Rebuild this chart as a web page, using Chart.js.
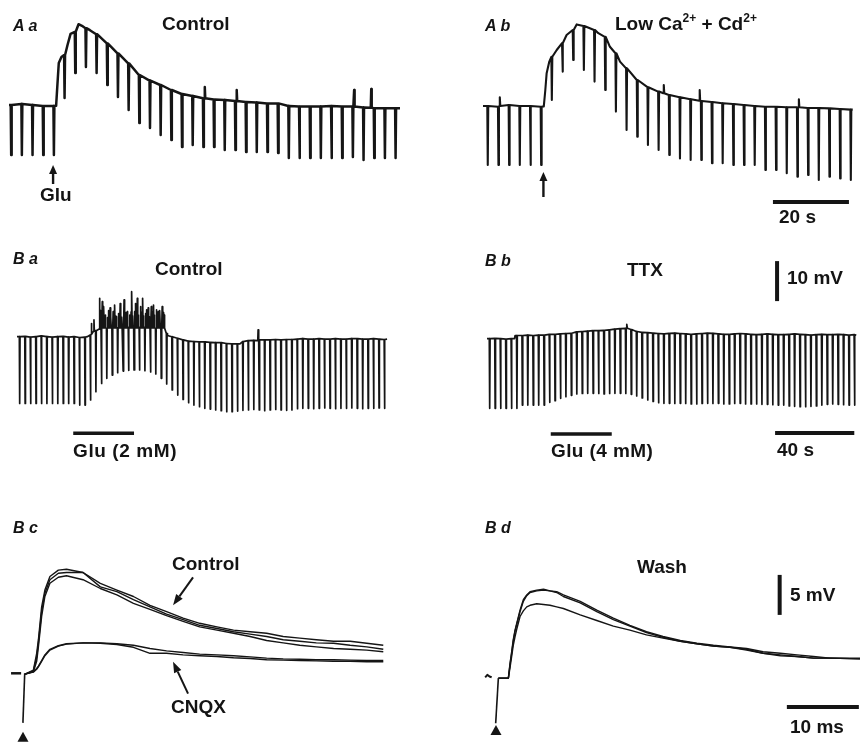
<!DOCTYPE html>
<html>
<head>
<meta charset="utf-8">
<script src="https://cdn.jsdelivr.net/npm/chart.js@4.4.1/dist/chart.umd.min.js"></script>
<style>
  body { margin: 0; width: 860px; height: 743px; position: relative; overflow: hidden; background: #fff;
         font-family: "Liberation Sans", Arial, sans-serif; }
  canvas { position: absolute; }
  .t { position: absolute; font-weight: bold; font-size: 19px; line-height: 19px; color: #141414; white-space: nowrap; }
  .p { font-style: italic; font-size: 16px; line-height: 16px; }
  .t sup { font-size: 12px; line-height: 0; position: relative; top: -1px; }
</style>
</head>
<body>
<canvas id="cAa" width="430" height="230" style="left:0;top:0"></canvas>
<canvas id="cAb" width="430" height="230" style="left:430px;top:0"></canvas>
<canvas id="cBa" width="430" height="245" style="left:0;top:230px"></canvas>
<canvas id="cBb" width="430" height="245" style="left:430px;top:230px"></canvas>
<canvas id="cBc" width="430" height="268" style="left:0;top:475px"></canvas>
<canvas id="cBd" width="430" height="268" style="left:430px;top:475px"></canvas>

<div class="t p" style="left:13px;top:18px">A a</div>
<div class="t" style="left:162px;top:14px">Control</div>
<div class="t" style="left:40px;top:185px">Glu</div>
<div class="t p" style="left:485px;top:18px">A b</div>
<div class="t" style="left:615px;top:14px">Low Ca<sup>2+</sup> + Cd<sup>2+</sup></div>
<div class="t" style="left:779px;top:207px">20 s</div>

<div class="t p" style="left:13px;top:251px">B a</div>
<div class="t" style="left:155px;top:259px">Control</div>
<div class="t" style="left:73px;top:441px;letter-spacing:0.6px">Glu (2 mM)</div>
<div class="t p" style="left:485px;top:253px">B b</div>
<div class="t" style="left:627px;top:260px">TTX</div>
<div class="t" style="left:787px;top:268px">10 mV</div>
<div class="t" style="left:551px;top:441px;letter-spacing:0.4px">Glu (4 mM)</div>
<div class="t" style="left:777px;top:440px">40 s</div>

<div class="t p" style="left:13px;top:520px">B c</div>
<div class="t" style="left:172px;top:554px">Control</div>
<div class="t" style="left:171px;top:697px">CNQX</div>
<div class="t p" style="left:485px;top:520px">B d</div>
<div class="t" style="left:637px;top:557px">Wash</div>
<div class="t" style="left:790px;top:585px">5 mV</div>
<div class="t" style="left:790px;top:717px">10 ms</div>

<script>
// ---- A: responses to glutamate puffs, hyperpolarizing pulses (s, mV) ----
const pulseIntervalA = 2.81;
const aaFirstPulse = 0.45;
const aaLevel = [0, 0.25, 0, -0.25, -0.25, 12.5, 18.3, 19.2, 17.7, 15.4, 12.9, 10.4, 7.5, 6.1, 5, 3.75, 2.75, 2.25, 1.7, 1.4,
  1.25, 1, 0.75, 0.6, 0.4, 0.4, -0.25, -0.4, -0.4, -0.4, -0.25, -0.4, -0.4, -0.6, -0.8, -0.8, -0.8];
const aaBottom = [-12.5, -12.5, -12.5, -12.5, -12.5, 1.75, 8, 9.5, 8, 5, 2, -1.25, -4.5, -5.75, -7.5, -8.75, -10.5, -10, -10.5, -10.5,
  -11.25, -11.25, -11.75, -11.75, -11.75, -12, -13.25, -13.25, -13.25, -13.25, -13.25, -13.25, -13, -13.75, -13.25, -13.25, -13.25];
const aaTraceT = [0, 12.4, 12.8, 13.1, 13.8, 15.4, 16.2, 18.3, 19.2, 21.3, 102.9];
const aaTraceV = [0, -0.2, 6, 10.5, 12, 15, 17.8, 20.2, 19.8, 18.7, -0.8];
const aaSpikeT = [51.4, 59.8, 90.7, 95.2];
const aaSpikeBase = [1.7, 1.0, -0.4, -0.7];
const aaSpikePeak = [4.5, 3.75, 3.75, 4];
const aaGluTime = 11.6;

const abFirstPulse = 1.13;
const abLevel = [0, -0.2, 0.25, 0, 0, -0.2, 12.3, 15.7, 19, 20, 19, 17.3, 13.2, 9.4, 6.5, 4.7, 3.6, 2.75, 2.2, 1.7,
  1.25, 1, 0.7, 0.5, 0.25, 0, -0.2, -0.2, -0.3, -0.3, -0.5, -0.5, -0.6, -0.75, -0.9];
const abBottom = [-14.75, -14.75, -14.75, -14.75, -14.75, -14.75, 1.5, 8.6, 11.5, 9, 6.1, 4, -1.4, -6, -7.7, -9.75, -11, -12.25, -13.1, -13.5,
  -13.5, -14.3, -14.3, -14.75, -14.75, -14.75, -16, -16, -16.8, -17.7, -17.25, -18.5, -17.7, -18.1, -18.5];
const abTraceT = [0, 16.0, 16.4, 16.75, 17.45, 19.4, 22.0, 24.65, 30.35, 33.4, 36.05, 97.3];
const abTraceV = [0, -0.1, 4, 8.2, 11.1, 14, 17.75, 20.4, 18.2, 14.8, 11.1, -0.9];
const abSpikeT = [4.3, 47.45, 56.9, 83.0];
const abSpikeBase = [0, 3.2, 1.3, -0.3];
const abSpikePeak = [2.2, 5.25, 4, 1.7];
const abGluTime = 15.9;
const barA_s = 20;

// ---- B a / B b: glutamate bath application (s, mV) ----
const pulseIntervalB = 2.75;
const baFirstPulse = 1.18;
const baLevel = [0, 0.1, -0.1, 0, 0.2, 0, -0.1, 0, 0.1, -0.1, 0, -0.2, -0.1,
  0.4, 1.5, 1.8, 2.1, 2.1, 2.2, 2.2, 2.3, 2.3, 2.3, 2.3, 2.2, 2.1, 1.8, 0.8, 0, -0.4, -0.8,
  -1.1, -1.2, -1.3, -1.3, -1.4, -1.5, -1.5, -1.7, -1.8, -1.8, -1.25,
  -1.0, -0.9, -0.8, -0.8, -0.8, -0.7, -0.8, -0.7, -0.7,
  -0.6, -0.5, -0.6, -0.6, -0.5, -0.6, -0.6, -0.5, -0.6, -0.6, -0.5, -0.5, -0.6, -0.6, -0.5, -0.6, -0.7];
const baBottom = [-16.7, -16.7, -16.7, -16.7, -16.7, -16.7, -16.7, -16.7, -16.7, -16.7, -16.7, -17.1, -17.1,
  -15.8, -13.75, -11.7, -10.4, -9.6, -9, -8.6, -8.4, -8.3, -8.3, -8.5, -8.8, -9.3, -10.4, -11.8, -13.3, -14.6, -15.7, -16.5, -17.1, -17.5,
  -17.9, -18.1, -18.3, -18.5, -18.75, -18.75, -18.6,
  -18.4, -18.3, -18.2, -18.3, -18.5, -18.3, -18.2, -18.3, -18.4, -18.3,
  -18.0, -17.9, -17.9, -18.0, -17.9, -17.8, -17.9, -18.0, -17.9, -17.9, -17.8, -17.9, -18.0, -17.9, -17.9, -17.8, -17.9];
const baTraceT = [0, 35.5, 76.0, 112.6, 186.9];
const baTraceV = [0, 0, 0.3, -1.8, -0.6];
const baSpikeT = [37.4, 38.7, 41.5, 41.95,
  42.9, 43.3, 43.7, 44.1, 44.5,
  45.65, 46.05, 46.45, 46.85, 47.25,
  48.4, 48.8, 49.2, 49.6, 50.0,
  51.15, 51.55, 51.95, 52.35, 52.75,
  53.9, 54.3, 54.7, 55.1, 55.5,
  56.65, 57.05, 57.45, 57.85, 58.25,
  59.4, 59.8, 60.2, 60.6, 61.0,
  62.15, 62.55, 62.95, 63.35, 63.75,
  64.9, 65.3, 65.7, 66.1, 66.5,
  67.65, 68.05, 68.45, 68.85, 69.25,
  70.4, 70.8, 71.2, 71.6, 72.0,
  73.15, 73.55, 73.95, 74.35,
  121.6];
const baSpikeBase = [0.6, 1.4, 1.9, 2.0,
  2.2, 2.2, 2.2, 2.2, 2.2, 2.2, 2.2, 2.2, 2.2, 2.2, 2.2, 2.2, 2.2, 2.2, 2.2,
  2.2, 2.2, 2.2, 2.2, 2.2, 2.2, 2.2, 2.2, 2.2, 2.2, 2.2, 2.2, 2.2, 2.2, 2.2,
  2.2, 2.2, 2.2, 2.2, 2.2, 2.2, 2.2, 2.2, 2.2, 2.2, 2.2, 2.2, 2.2, 2.2, 2.2,
  2.2, 2.2, 2.2, 2.2, 2.2, 2.2, 2.2, 2.2, 2.2, 2.2, 2.2, 2.2, 2.2, 2.2,
  -1.0];
const baSpikePeak = [3.3, 4.2, 9.6, 6.5,
  8.75, 5.2, 7.5, 5.0, 5.4,
  4.8, 6.5, 5.4, 7.2, 5.0,
  6.25, 4.9, 7.9, 5.2, 5.0,
  5.8, 5.0, 8.3, 5.4, 4.9,
  9.2, 5.0, 6.0, 5.0, 6.25,
  5.4, 4.8, 6.2, 11.25, 5.2,
  6.25, 8.3, 5.0, 9.6, 5.4,
  7.5, 5.0, 6.0, 9.6, 5.2,
  5.8, 6.7, 5.0, 7.2, 5.0,
  7.5, 5.4, 6.0, 7.9, 5.4,
  6.7, 5.0, 6.25, 5.4, 6.5,
  7.5, 5.4, 6.0, 5.4,
  1.7];
const baGlu = [28.4, 59.1];

const bbFirstPulse = 1.16;
const bbLevel = [-0.1, 0, -0.1, -0.2, -0.1, 0.7, 0.7, 0.8, 0.7, 0.8, 0.8, 1.0, 1.0, 1.1, 1.2, 1.25,
  1.6, 1.7, 1.8, 1.9, 1.9, 2.0, 2.1, 2.3, 2.4, 2.5, 2.2, 1.7, 1.5, 1.4, 1.3,
  1.2, 1.1, 1.25, 1.3, 1.2, 1.1, 1.0, 1.1, 1.2, 1.3, 1.25, 1.1, 1.0, 1.0, 1.1, 1.2, 1.1, 1.0, 0.9, 1.0,
  1.1, 1.0, 0.9, 0.9, 1.0, 1.1, 1.0, 0.9, 0.8, 0.9, 1.0, 0.9, 0.9, 1.0, 0.9, 0.8, 0.9];
const bbBottom = [-17.5, -17.5, -17.5, -17.5, -17.5, -17.5, -16.7, -16.7, -16.7, -16.7, -16.7,
  -16, -15.6, -15, -14.6, -14.25, -13.9, -13.8, -13.75, -13.75, -13.8, -13.9, -13.8, -13.75, -13.75, -13.8, -14, -14.4, -14.9, -15.4, -15.8, -16.1,
  -16.25, -16.25, -16.3, -16.25, -16.3, -16.4, -16.4, -16.3, -16.25, -16.3, -16.25, -16.4, -16.4, -16.3, -16.25, -16.4, -16.4, -16.4,
  -16.5, -16.5, -16.6, -16.7, -16.7, -16.9, -17.0, -17.1, -17.1, -17.0, -16.9, -16.7, -16.5, -16.4, -16.5, -16.6, -16.7, -16.7];
const bbTraceT = [0, 13.9, 14.2, 186.5];
const bbTraceV = [-0.1, -0.1, 0.7, 0.8];
const bbSpikeT = [70.5];
const bbSpikeBase = [2.5];
const bbSpikePeak = [3.5];
const bbGlu = [32.2, 63.0];
const barB_mV = 10;
const barB_s = 40;

// ---- B c / B d: evoked EPSPs (ms, mV) ----
const bcT = [0.14, 1.3, 1.76, 2.0, 2.45, 2.9, 3.6, 4.77, 5.9, 8.2, 10.6, 12.9, 15.2, 17.5, 19.8, 22.1, 24.4, 26.8,
  29.1, 31.4, 33.7, 36.0, 38.3, 40.6, 43.0, 45.3, 47.6, 49.9];
const bcControl1 = [-0.1, 0.4, 2.5, 4.2, 8.3, 10.4, 12.1, 12.9, 13.0, 12.6, 11.25, 10.4, 9.6, 8.5, 7.7, 6.9, 6.25, 5.8,
  5.4, 5.2, 5.0, 4.6, 4.4, 4.2, 4.0, 4.0, 3.75, 3.5];
const bcControl2 = [-0.1, 0.2, 1.5, 3.3, 7.1, 9.6, 11.25, 12.0, 12.2, 11.7, 10.6, 9.8, 8.75, 8.0, 7.2, 6.5, 5.8, 5.4,
  5.0, 4.6, 4.1, 3.8, 3.5, 3.3, 3.1, 3.0, 2.9, 2.7];
const bcControl3 = [-0.1, 0.3, 2.0, 3.8, 7.7, 10.0, 11.7, 12.5, 12.6, 12.6, 10.8, 10.2, 9.2, 8.3, 7.4, 6.7, 6.0, 5.6,
  5.2, 4.9, 4.6, 4.2, 4.0, 3.8, 3.75, 3.5, 3.3, 3.0];
const bcCnqx1 = [-0.1, 0.2, 0.6, 0.9, 1.6, 2.3, 3.0, 3.45, 3.7, 3.8, 3.8, 3.7, 3.5, 3.1, 2.8, 2.6, 2.4, 2.3,
  2.2, 2.05, 1.9, 1.8, 1.75, 1.7, 1.7, 1.65, 1.6, 1.6];
const bcCnqx2 = [-0.1, 0.15, 0.5, 0.8, 1.5, 2.2, 2.9, 3.4, 3.65, 3.8, 3.75, 3.6, 3.25, 2.5, 2.5, 2.3, 2.2, 2.1,
  1.95, 1.85, 1.7, 1.65, 1.6, 1.55, 1.5, 1.5, 1.45, 1.45];
const bcPreT = [-1.8, -0.4];
const bcPreV = [0, 0];
const bcArtT = [0.1, -0.15];
const bcArtV = [0, -6.2];

const bdT = [0.23, 1.62, 1.85, 2.08, 2.3, 2.55, 2.78, 3.24, 3.7, 4.17, 4.63, 5.56, 6.5, 7.4, 8.33, 9.26, 11.6, 13.9,
  16.2, 18.5, 20.8, 23.1, 25.5, 27.8, 30.1, 32.4, 34.7, 37.0, 39.4, 41.7, 44.0, 46.3, 50.5];
const bdWash1 = [-0.1, -0.1, 1.75, 3.2, 4.7, 5.9, 6.75, 8.4, 9.7, 10.3, 10.7, 10.9, 11.0, 10.8, 10.7, 10.3, 9.5, 8.4,
  7.4, 6.5, 5.7, 5.1, 4.6, 4.25, 4.0, 3.8, 3.6, 3.2, 3.0, 2.8, 2.6, 2.4, 2.4];
const bdWash2 = [-0.1, -0.1, 1.6, 3.0, 4.5, 5.8, 6.6, 8.2, 9.5, 10.2, 10.6, 10.8, 10.9, 10.8, 10.6, 10.1, 9.3, 8.2,
  7.2, 6.4, 5.6, 5.0, 4.5, 4.2, 3.9, 3.75, 3.5, 3.0, 2.8, 2.6, 2.4, 2.4, 2.3];
const bdWash3 = [-0.1, -0.1, 1.2, 2.6, 4.0, 5.1, 6.0, 7.6, 8.3, 8.8, 9.0, 9.2, 9.1, 9.0, 8.8, 8.6, 7.8, 7.1,
  6.4, 5.9, 5.3, 4.9, 4.5, 4.2, 3.9, 3.75, 3.4, 3.0, 2.7, 2.6, 2.4, 2.4, 2.3];
const bdPreT = [-1.6, -1.3, -1.0, -0.7];
const bdPreV = [0, 0.3, 0.1, 0];
const bdArtT = [0.23, -0.14];
const bdArtV = [-0.1, -5.75];
const barC_mV = 5;
const barC_ms = 10;

const INK = '#151515';

// pulses and spikes are drawn as narrow excursions from the listed level
function pulseTrace(first, interval, level, bottom, traceT, traceV, spikeT, spikeBase, spikePeak, w) {
  const groups = [];
  level.forEach((v, i) => {
    const t = first + i * interval;
    groups.push([{ x: t, y: v }, { x: t + w / 2, y: bottom[i] }, { x: t + w, y: v }]);
  });
  spikeT.forEach((t, i) => {
    groups.push([{ x: t, y: spikeBase[i] }, { x: t + w / 2, y: spikePeak[i] }, { x: t + w, y: spikeBase[i] }]);
  });
  traceT.forEach((t, i) => groups.push([{ x: t, y: traceV[i] }]));
  groups.sort((a, b) => a[0].x - b[0].x);
  return groups.flat();
}

function xy(T, V) { return T.map((t, i) => ({ x: t, y: V[i] })); }

function line(data, width) {
  return { data, showLine: true, borderColor: INK, borderWidth: width, pointRadius: 0, fill: false,
           tension: 0, clip: false, borderJoinStyle: 'round', borderCapStyle: 'butt' };
}

const marksPlugin = {
  id: 'marks',
  afterDatasetsDraw(chart, args, opts) {
    const ctx = chart.ctx, xs = chart.scales.x, ys = chart.scales.y;
    ctx.save();
    ctx.fillStyle = INK; ctx.strokeStyle = INK;
    (opts.arrows || []).forEach(a => {
      const x = xs.getPixelForValue(a.t), y = ys.getPixelForValue(a.v);
      const x0 = x + a.dx, y0 = y + a.dy;
      const ang = Math.atan2(y - y0, x - x0);
      const hl = a.head, hw = a.headW / 2;
      const bx = x - hl * Math.cos(ang), by = y - hl * Math.sin(ang);
      ctx.lineWidth = a.lw;
      ctx.beginPath(); ctx.moveTo(x0, y0); ctx.lineTo(bx, by); ctx.stroke();
      ctx.beginPath(); ctx.moveTo(x, y);
      ctx.lineTo(bx + hw * Math.sin(ang), by - hw * Math.cos(ang));
      ctx.lineTo(bx - hw * Math.sin(ang), by + hw * Math.cos(ang));
      ctx.closePath(); ctx.fill();
    });
    (opts.triangles || []).forEach(tr => {
      const x = xs.getPixelForValue(tr.t), y = ys.getPixelForValue(tr.v);
      ctx.beginPath(); ctx.moveTo(x, y); ctx.lineTo(x + tr.w / 2, y + tr.h); ctx.lineTo(x - tr.w / 2, y + tr.h);
      ctx.closePath(); ctx.fill();
    });
    ctx.restore();
  }
};

// box: canvas placement in page pixels, origin of data (0,0) in page pixels, pixels per unit
function panel(id, box, datasets, marks) {
  return new Chart(document.getElementById(id), {
    type: 'scatter',
    data: { datasets },
    options: {
      responsive: false, animation: false, devicePixelRatio: 1, events: [],
      layout: { padding: 0 },
      plugins: { legend: { display: false }, tooltip: { enabled: false }, marks: marks || {} },
      scales: {
        x: { type: 'linear', display: false, min: (box.left - box.ox) / box.sx, max: (box.left + box.w - box.ox) / box.sx },
        y: { type: 'linear', display: false, min: (box.oy - box.top - box.h) / box.sy, max: (box.oy - box.top) / box.sy }
      }
    },
    plugins: [marksPlugin]
  });
}

const gluArrow = { head: 9, headW: 8, lw: 2.4, dx: 0 };

panel('cAa', { left: 0, top: 0, w: 430, h: 230, ox: 9, oy: 105, sx: 3.8, sy: 4 }, [
  line(pulseTrace(aaFirstPulse, pulseIntervalA, aaLevel, aaBottom, aaTraceT, aaTraceV, aaSpikeT, aaSpikeBase, aaSpikePeak, 0.25), 2.5)
], { arrows: [Object.assign({ t: aaGluTime, v: -15, dy: 19 }, gluArrow)] });

panel('cAb', { left: 430, top: 0, w: 430, h: 230, ox: 483, oy: 106, sx: 3.8, sy: 4 }, [
  line(pulseTrace(abFirstPulse, pulseIntervalA, abLevel, abBottom, abTraceT, abTraceV, abSpikeT, abSpikeBase, abSpikePeak, 0.25), 2.1),
  line([{ x: 76.3, y: -24 }, { x: 76.3 + barA_s, y: -24 }], 4)
], { arrows: [Object.assign({ t: abGluTime, v: -16.5, dy: 25 }, gluArrow)] });

panel('cBa', { left: 0, top: 230, w: 430, h: 245, ox: 17, oy: 336.7, sx: 1.98, sy: 4 }, [
  line(pulseTrace(baFirstPulse, pulseIntervalB, baLevel, baBottom, baTraceT, baTraceV, baSpikeT, baSpikeBase, baSpikePeak, 0.35), 1.7),
  line(xy(baGlu, [-24.15, -24.15]), 3.5)
]);

panel('cBb', { left: 430, top: 230, w: 430, h: 245, ox: 487, oy: 338.3, sx: 1.98, sy: 4 }, [
  line(pulseTrace(bbFirstPulse, pulseIntervalB, bbLevel, bbBottom, bbTraceT, bbTraceV, bbSpikeT, bbSpikeBase, bbSpikePeak, 0.4), 1.7),
  line(xy(bbGlu, [-23.9, -23.9]), 3.5),
  line([{ x: 146.5, y: 9.3 }, { x: 146.5, y: 9.3 + barB_mV }], 4),
  line([{ x: 145.5, y: -23.7 }, { x: 145.5 + barB_s, y: -23.7 }], 4)
]);

panel('cBc', { left: 0, top: 475, w: 430, h: 268, ox: 24, oy: 673.3, sx: 7.2, sy: 8 }, [
  line(xy(bcT, bcControl1), 1.4),
  line(xy(bcT, bcControl2), 1.4),
  line(xy(bcT, bcControl3), 1.4),
  line(xy(bcT, bcCnqx1), 1.4),
  line(xy(bcT, bcCnqx2), 1.4),
  line(xy(bcPreT, bcPreV), 2.5),
  line(xy(bcArtT, bcArtV), 1.6)
], {
  arrows: [
    { t: 20.7, v: 8.5, dx: 20, dy: -28, head: 11, headW: 8, lw: 2 },
    { t: 20.7, v: 1.45, dx: 15, dy: 32, head: 11, headW: 8, lw: 2 }
  ],
  triangles: [{ t: -0.14, v: -7.3, w: 11, h: 10 }]
});

panel('cBd', { left: 430, top: 475, w: 430, h: 268, ox: 496.7, oy: 677.3, sx: 7.2, sy: 8 }, [
  line(xy(bdT, bdWash1), 1.4),
  line(xy(bdT, bdWash2), 1.4),
  line(xy(bdT, bdWash3), 1.4),
  line(xy(bdPreT, bdPreV), 2),
  line(xy(bdArtT, bdArtV), 1.6),
  line([{ x: 39.3, y: 7.8 }, { x: 39.3, y: 7.8 + barC_mV }], 4),
  line([{ x: 40.3, y: -3.7 }, { x: 40.3 + barC_ms, y: -3.7 }], 4)
], { triangles: [{ t: -0.1, v: -5.96, w: 11, h: 10 }] });
</script>
</body>
</html>
